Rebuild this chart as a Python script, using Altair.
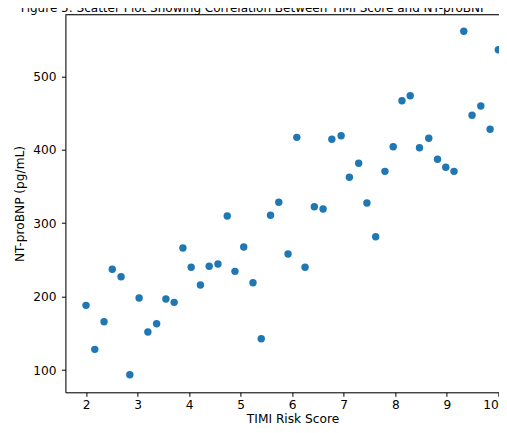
import altair as alt
import pandas as pd

timi_score = [2.00, 2.17, 2.35, 2.51, 2.68, 2.85, 3.03, 3.20, 3.37, 3.55,
              3.71, 3.88, 4.04, 4.22, 4.39, 4.56, 4.74, 4.89, 5.06, 5.24,
              5.40, 5.58, 5.74, 5.92, 6.09, 6.25, 6.43, 6.60, 6.77, 6.95,
              7.11, 7.29, 7.45, 7.62, 7.80, 7.96, 8.13, 8.29, 8.47, 8.65,
              8.82, 8.98, 9.14, 9.33, 9.49, 9.66, 9.84, 10.00]
nt_probnp = [188.1, 128.2, 165.8, 237.2, 227.1, 93.6, 198.1, 151.8, 163.1, 196.7,
             192.2, 266.2, 239.9, 215.8, 241.3, 244.4, 309.8, 234.4, 267.5, 218.9,
             142.7, 310.7, 328.4, 258.0, 416.9, 239.9, 322.3, 319.3, 414.2, 419.1,
             362.5, 381.5, 327.5, 281.6, 370.6, 404.1, 466.8, 473.6, 402.8, 415.6,
             387.0, 376.1, 370.6, 561.3, 446.9, 459.6, 427.8, 536.2]
x_ticks = [2, 3, 4, 5, 6, 7, 8, 9, 10]
y_ticks = [100, 200, 300, 400, 500]
title_text = "Figure 5: Scatter Plot Showing Correlation Between TIMI Score and NT-proBNP"
x_label = "TIMI Risk Score"
y_label = "NT-proBNP (pg/mL)"

df = pd.DataFrame({"score": timi_score, "bnp": nt_probnp})

PX_PER_UNIT = 51.54
PAD_L, PAD_T = 57.4, 6.7
W = 491 - PAD_L
H = 377.6
PAD_B = 417 - PAD_T - H
X_MAX = 1.6 + W / PX_PER_UNIT
FONT = "DejaVu Sans"
AXIS_CENTER = 227.1   # centre of the full axes, relative to plot left
TITLE_CENTER = 188.5  # centre of the visible area, relative to plot left

points = alt.Chart(df).mark_circle(size=55, color="#1f77b4", opacity=1).encode(
    x=alt.X("score:Q",
            scale=alt.Scale(domain=[1.6, X_MAX], nice=False, zero=False),
            axis=alt.Axis(values=x_ticks, title=x_label, grid=False,
                          domainColor="black", domainWidth=1,
                          tickColor="black", tickSize=4, tickWidth=1,
                          labelColor="black", labelFont=FONT, labelFontSize=12.2,
                          labelPadding=2.5, labelFlush=False, labelOverlap=False,
                          labelAlign=alt.ExprRef("datum.value == 10 ? 'right' : 'center'"),
                          titleFont=FONT, titleFontSize=12.2, titleFontWeight="normal",
                          titleColor="black", titleBaseline="alphabetic",
                          titleX=AXIS_CENTER, titleY=30.0, titleAnchor="middle")),
    y=alt.Y("bnp:Q",
            scale=alt.Scale(domain=[69.7, 583.9], nice=False, zero=False),
            axis=alt.Axis(values=y_ticks, title=y_label, grid=False,
                          domainColor="black", domainWidth=1,
                          tickColor="black", tickSize=4, tickWidth=1,
                          labelColor="black", labelFont=FONT, labelFontSize=12.2,
                          labelPadding=5.5, labelFlush=False,
                          titleFont=FONT, titleFontSize=12.2, titleFontWeight="normal",
                          titleColor="black", titleBaseline="alphabetic",
                          titleAngle=270, titleX=-41.5, titleY=H / 2,
                          titleAnchor="middle")),
)

top_line = alt.Chart(pd.DataFrame({"v": [0]})).mark_rule(color="black", strokeWidth=1).encode(
    x=alt.value(0), x2=alt.value(W), y=alt.value(0)
)

title_df = pd.DataFrame({"t": [title_text]})
title = alt.Chart(title_df).mark_text(
    font=FONT, fontSize=12, color="black", align="center", baseline="alphabetic"
).encode(
    x=alt.value(TITLE_CENTER), y=alt.value(-2.3), text="t:N"
)

chart = alt.layer(points, top_line, title).properties(
    width=W, height=H,
    autosize=alt.AutoSizeParams(type="none"),
    padding={"left": PAD_L, "top": PAD_T, "right": 0, "bottom": PAD_B},
).configure_view(stroke=None).configure(background="white")

chart.save("out.html", embed_options={"renderer": "svg", "actions": False})
